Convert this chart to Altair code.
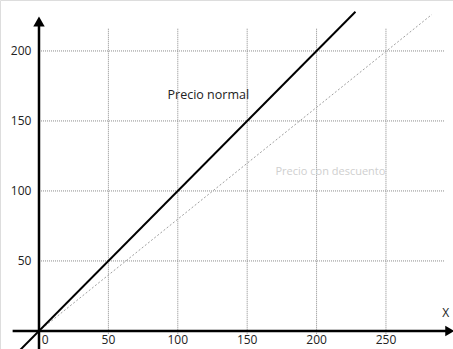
import altair as alt
import pandas as pd

# Grid positions and tick labels
x_ticks = [50, 100, 150, 200, 250]
y_ticks = [50, 100, 150, 200]
x_tick_labels = ["50", "100", "150", "200", "250"]
y_tick_labels = ["50", "100", "150", "200"]

# Price lines
normal_x = [-15, 228]
normal_y = [-15, 228]
discount_x = [0, 283]
discount_y = [0, 226]

X_DOMAIN = [-28.1, 298.3]
Y_DOMAIN = [-12.9, 236.4]

xs = alt.Scale(domain=X_DOMAIN, nice=False, zero=False)
ys = alt.Scale(domain=Y_DOMAIN, nice=False, zero=False)


def X(field="x"):
    return alt.X(field, type="quantitative", scale=xs, axis=None)


def Y(field="y"):
    return alt.Y(field, type="quantitative", scale=ys, axis=None)


grid_h = pd.DataFrame({"y": y_ticks, "x": [0] * len(y_ticks), "x2": [292] * len(y_ticks)})
grid_v = pd.DataFrame({"x": x_ticks, "y": [-2] * len(x_ticks), "y2": [216] * len(x_ticks)})

grid_style = dict(color="#8a8a8a", strokeWidth=1, strokeDash=[1, 1])
h_lines = alt.Chart(grid_h).mark_rule(**grid_style).encode(x=X(), x2="x2", y=Y())
v_lines = alt.Chart(grid_v).mark_rule(**grid_style).encode(x=X(), y=Y(), y2="y2")

axes_df = pd.DataFrame({"x": [-19, 0], "x2": [295, 0], "y": [0, -13], "y2": [0, 220]})
axes = alt.Chart(axes_df).mark_rule(color="black", strokeWidth=2.5).encode(
    x=X(), x2="x2", y=Y(), y2="y2"
)

arrow_up = alt.Chart(pd.DataFrame({"x": [0], "y": [221]})).mark_point(
    shape="triangle-up", size=130, filled=True, color="black", opacity=1
).encode(x=X(), y=Y())
arrow_right = alt.Chart(pd.DataFrame({"x": [296], "y": [0]})).mark_point(
    shape="triangle-right", size=110, filled=True, color="black", opacity=1
).encode(x=X(), y=Y())

normal = alt.Chart(pd.DataFrame({"x": normal_x, "y": normal_y})).mark_line(
    color="black", strokeWidth=2
).encode(x=X(), y=Y())
discount = alt.Chart(pd.DataFrame({"x": discount_x, "y": discount_y})).mark_line(
    color="#a0a0a0", strokeWidth=1, strokeDash=[2, 2]
).encode(x=X(), y=Y())

font = "Open Sans"
x_lab = alt.Chart(pd.DataFrame({"x": x_ticks, "y": [-6.5] * len(x_ticks), "t": x_tick_labels})).mark_text(
    font=font, fontSize=12, color="#222", align="center", baseline="middle"
).encode(x=X(), y=Y(), text="t:N")
zero_lab = alt.Chart(pd.DataFrame({"x": [2], "y": [-6.5], "t": ["0"]})).mark_text(
    font=font, fontSize=12, color="#222", align="left", baseline="middle"
).encode(x=X(), y=Y(), text="t:N")
y_lab = alt.Chart(pd.DataFrame({"x": [-5.5] * len(y_ticks), "y": y_ticks, "t": y_tick_labels})).mark_text(
    font=font, fontSize=12, color="#222", align="right", baseline="middle"
).encode(x=X(), y=Y(), text="t:N")
x_name = alt.Chart(pd.DataFrame({"x": [293], "y": [13], "t": ["X"]})).mark_text(
    font=font, fontSize=12, color="#222", align="center", baseline="middle"
).encode(x=X(), y=Y(), text="t:N")

normal_lab = alt.Chart(pd.DataFrame({"x": [122], "y": [168.5], "t": ["Precio normal"]})).mark_text(
    font=font, fontSize=12.5, color="#222", align="center", baseline="middle"
).encode(x=X(), y=Y(), text="t:N")
discount_lab = alt.Chart(pd.DataFrame({"x": [210], "y": [113.5], "t": ["Precio con descuento"]})).mark_text(
    font=font, fontSize=11, color="#cfcfcf", align="center", baseline="middle"
).encode(x=X(), y=Y(), text="t:N")

chart = (
    alt.layer(
        h_lines, v_lines, discount, normal, axes, arrow_up, arrow_right,
        x_lab, zero_lab, y_lab, x_name, normal_lab, discount_lab,
    )
    .properties(width=453, height=349, padding=0, autosize=alt.AutoSizeParams(type="none"))
    .configure_view(stroke=None)
    .configure(background="white")
)

chart.save("out.html", embed_options={"renderer": "svg", "actions": False})
